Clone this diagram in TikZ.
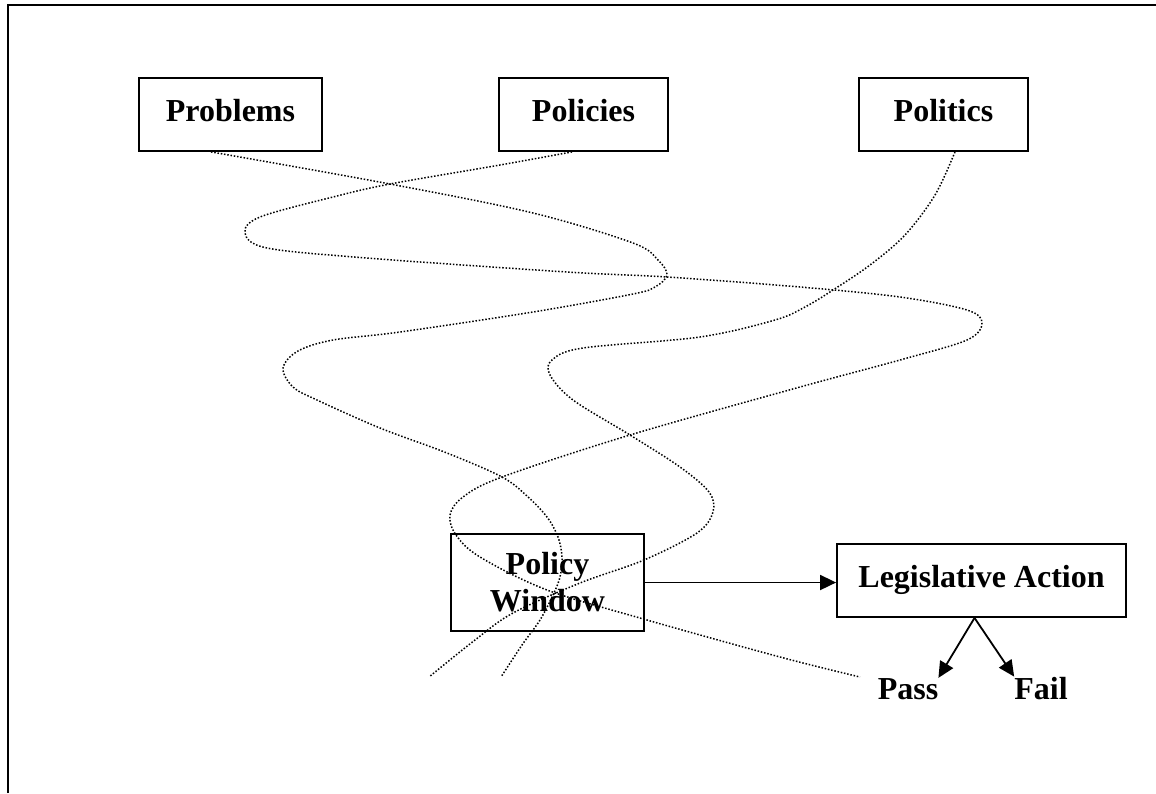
\documentclass[tikz,border=0pt]{standalone}
\usepackage{fontspec}
\setmainfont{Liberation Serif}
\usetikzlibrary{arrows.meta}

\begin{document}
\begin{tikzpicture}[x=1pt, y=-1pt,
  lbl/.style={font=\bfseries\fontsize{32}{37}\selectfont, inner sep=0pt},
  box/.style={lbl, draw, line width=1.8pt, minimum height=73pt},
  oneline/.style={text height=22pt, text depth=9pt},
  stream/.style={line width=1.5pt, dash pattern=on 1.5pt off 1.8pt},
  link/.style={line width=1.8pt, -{Triangle[length=16pt, width=15pt]}}]

\useasboundingbox (0,0) rectangle (1156,793);
\draw[line width=2.4pt] (8,793) -- (8,5) -- (1156,5);

% the three streams
\node[box, oneline, minimum width=183pt] (prob) at (230.5,114.5) {Problems};
\node[box, oneline, minimum width=169pt] (pol) at (583.5,114.5) {Policies};
\node[box, oneline, minimum width=169pt] (polit) at (943.5,114.5) {Politics};

\node[box, align=center, minimum width=193pt, minimum height=97pt] (win) at (547.5,582.5) {Policy\\Window};
\node[box, oneline, minimum width=289pt] (act) at (981.5,580.5) {Legislative Action};
\node[lbl, anchor=base] (pass) at (908,699) {Pass};
\node[lbl, anchor=base] (fail) at (1041,699) {Fail};
\coordinate (split) at ([xshift=-7pt]act.south);

\draw[stream] plot[smooth, tension=0.55] coordinates {([xshift=-19.5pt]prob.south) (390,184) (533,213) (633,243) (658,260) (667,275) (655,287) (633,294) (533,312) (400,332) (333,340) (298,351) (283,368) (293,387) (317,400) (380,428) (447,453) (502,477) (527,496) (547,517) (558,537) (562,557) (560,577) (553,595) (540,620) (522,645) (501,677)};

\draw[stream] plot[smooth, tension=0.55] coordinates {([xshift=-11.5pt]pol.south) (500,165) (390,184) (333,197) (260,217) (245,233) (267,248) (367,258) (567,272) (667,277) (800,287) (900,297) (967,310) (982,323) (967,340) (900,360) (800,387) (630,435) (502,477) (463,497) (450,515) (456,535) (480,557) (547,590) (647,620) (780,657) (860,677)};

\draw[stream] plot[smooth, tension=0.55] coordinates {([xshift=11.5pt]polit.south) (935,195) (905,235) (870,265) (833,290) (805,307) (775,320) (700,337) (583,348) (552,360) (550,375) (573,400) (630,435) (680,467) (709,492) (713,512) (697,533) (644,560) (580,583) (513,613) (475,640) (429,677)};

\draw[link] (win.east) -- (win.east -| act.west);
\draw[link] (split) -- (pass.north east);
\draw[link] (split) -- (fail.north west);

\end{tikzpicture}
\end{document}
